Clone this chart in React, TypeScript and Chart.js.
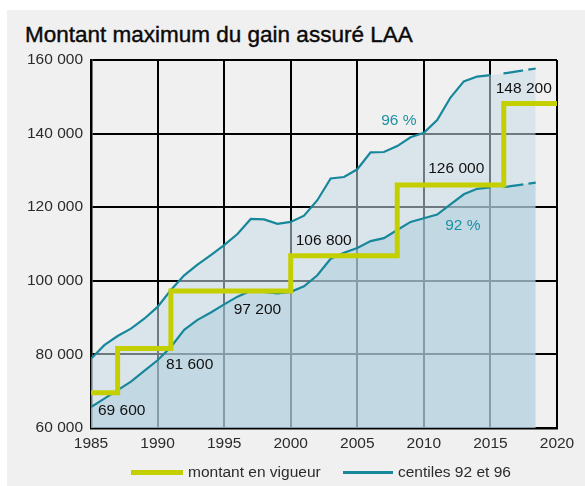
import React, { useEffect, useRef } from "react";
import { Chart, registerables } from "chart.js";

Chart.register(...registerables);

// ---- data ----
const years = [
  1985, 1986, 1987, 1988, 1989, 1990, 1991, 1992, 1993, 1994, 1995, 1996, 1997, 1998, 1999, 2000,
  2001, 2002, 2003, 2004, 2005, 2006, 2007, 2008, 2009, 2010, 2011, 2012, 2013, 2014, 2015,
];
const centile96 = [
  78800, 82500, 85000, 87000, 89700, 92900, 97500, 101500, 104400, 107000, 109700, 112700, 116800,
  116700, 115500, 116000, 117700, 121900, 127800, 128200, 130300, 134900, 135000, 136600, 139000,
  140200, 143700, 149800, 154200, 155500, 155900,
];
const centile92 = [
  65700, 68000, 70300, 72600, 75500, 78400, 82000, 86700, 89400, 91400, 93600, 95700, 97300, 97000,
  96600, 97000, 98500, 101500, 106000, 107600, 108900, 110800, 111600, 113800, 116000, 117000,
  118000, 120800, 123500, 125000, 125400,
];
const projYears = [2015, 2016.3, 2018.4];
const centile96Proj = [155900, 156500, 157700];
const centile92Proj = [125400, 125600, 126700];

const stepYears = [1985, 1987, 1991, 2000, 2008, 2016, 2020];
const stepValues = [69600, 81600, 97200, 106800, 126000, 148200, 148200];

const xTicks = { min: 1985, max: 2020, step: 5 };
const yTicks = { min: 60000, max: 160000, step: 20000 };

const titleText = "Montant maximum du gain assuré LAA";
const legendStep = "montant en vigueur";
const legendCentiles = "centiles 92 et 96";
const label96 = "96 %";
const label92 = "92 %";

// ---- styles ----
const TEAL = "#17879b";
const LIME = "#c4cf00";
const FONT = "'Liberation Sans', Arial, Helvetica, sans-serif";

const fmt = (v: number) => String(Math.round(v)).replace(/\B(?=(\d{3})+(?!\d))/g, " ");
const pts = (xs: number[], ys: number[]) => xs.map((x, i) => ({ x, y: ys[i] }));

// label placement for each step (pixel offsets, style only)
const stepLabelStyle = [
  { dx: 7, dy: 18, anchorEnd: false },
  { dx: -5, dy: 16, anchorEnd: true },
  { dx: -57, dy: 19, anchorEnd: true },
  { dx: 5, dy: -15, anchorEnd: false },
  { dx: 31, dy: -16, anchorEnd: false },
  { dx: -8, dy: -15, anchorEnd: false },
];

const labelsPlugin = {
  id: "valueLabels",
  afterDatasetsDraw(chart: any) {
    const { ctx, scales } = chart;
    const xs = scales.x;
    const ys = scales.y;
    ctx.save();
    ctx.font = `15.5px ${FONT}`;
    ctx.fillStyle = "#111";
    ctx.textAlign = "left";
    ctx.textBaseline = "middle";
    for (let i = 0; i < 6; i++) {
      const s = stepLabelStyle[i];
      const baseYear = s.anchorEnd ? stepYears[i + 1] : stepYears[i];
      const px = xs.getPixelForValue(baseYear) + s.dx;
      const py = ys.getPixelForValue(stepValues[i]) + s.dy;
      ctx.fillText(fmt(stepValues[i]), px, py);
    }
    ctx.fillStyle = "#1f8fa6";
    const x96 = xs.getPixelForValue(2006.8);
    const y96 = ys.getPixelForValue(centile96[years.indexOf(2007)]) - 31;
    ctx.fillText(label96, x96, y96);
    const x92 = xs.getPixelForValue(2011.6);
    const y92 = ys.getPixelForValue(centile92[years.indexOf(2012)]) + 21;
    ctx.fillText(label92, x92, y92);
    ctx.restore();
  },
};

export default function App() {
  const ref = useRef<HTMLCanvasElement>(null);

  useEffect(() => {
    if (!ref.current) return;
    const fillYears = years.concat(projYears.slice(1));
    const fill96 = centile96.concat(centile96Proj.slice(1));
    const fill92 = centile92.concat(centile92Proj.slice(1));
    const chart = new Chart(ref.current, {
      type: "line",
      data: {
        datasets: [
          {
            label: legendStep,
            data: pts(stepYears, stepValues),
            borderColor: LIME,
            borderWidth: 5,
            stepped: "before",
            pointRadius: 0,
            fill: false,
            borderJoinStyle: "miter",
            borderCapStyle: "butt",
          },
          {
            label: legendCentiles,
            data: pts(years, centile96),
            borderColor: TEAL,
            borderWidth: 2.2,
            pointRadius: 0,
            fill: false,
            tension: 0,
          },
          {
            label: "92",
            data: pts(years, centile92),
            borderColor: TEAL,
            borderWidth: 2.2,
            pointRadius: 0,
            fill: false,
            tension: 0,
          },
          {
            label: "96p",
            data: pts(projYears, centile96Proj),
            borderColor: TEAL,
            borderWidth: 2.2,
            borderDash: [20, 5, 20, 13],
            borderDashOffset: 45,
            pointRadius: 0,
            fill: false,
            tension: 0.3,
          },
          {
            label: "92p",
            data: pts(projYears, centile92Proj),
            borderColor: TEAL,
            borderWidth: 2.2,
            borderDash: [20, 5, 20, 13],
            borderDashOffset: 45,
            pointRadius: 0,
            fill: false,
            tension: 0.3,
          },
          {
            label: "fill92",
            data: pts(fillYears, fill92),
            borderWidth: 0,
            borderColor: "rgba(0,0,0,0)",
            backgroundColor: "rgba(165,200,214,0.45)",
            pointRadius: 0,
            fill: "start",
          },
          {
            label: "fill96",
            data: pts(fillYears, fill96),
            borderWidth: 0,
            borderColor: "rgba(0,0,0,0)",
            backgroundColor: "rgba(200,219,232,0.55)",
            pointRadius: 0,
            fill: "start",
          },
        ],
      },
      options: {
        responsive: false,
        animation: false,
        devicePixelRatio: 1,
        layout: { padding: { top: 60, right: 28, left: 0, bottom: 0 } },
        plugins: {
          legend: { display: false },
          tooltip: { enabled: false },
          title: { display: false },
        },
        scales: {
          x: {
            type: "linear",
            min: xTicks.min,
            max: xTicks.max,
            afterFit: (s: any) => {
              s.height = 58;
            },
            ticks: {
              stepSize: xTicks.step,
              padding: 6,
              color: "#2b2b2b",
              font: { family: FONT, size: 15.5 },
              callback: (v: any) => String(v),
              maxRotation: 0,
            },
            grid: { color: "#000", lineWidth: 2, drawTicks: false },
            border: { color: "#000", width: 2.5 },
          },
          y: {
            min: yTicks.min,
            max: yTicks.max,
            afterFit: (s: any) => {
              s.width = 91;
            },
            ticks: {
              stepSize: yTicks.step,
              padding: 8,
              color: "#2b2b2b",
              font: { family: FONT, size: 15.5 },
              callback: (v: any) => fmt(v),
            },
            grid: { color: "#000", lineWidth: 2, drawTicks: false },
            border: { color: "#000", width: 2.5 },
          },
        },
      },
      plugins: [labelsPlugin],
    } as any);
    return () => chart.destroy();
  }, []);

  return (
    <div style={{ position: "absolute", left: 0, top: 0, width: 585, height: 486, background: "#fff", overflow: "hidden" }}>
      <div style={{ position: "absolute", left: 7, top: 10, width: 578, height: 476, background: "#f0f0f0" }} />
      <div
        style={{
          position: "absolute",
          left: 25,
          top: 24,
          fontFamily: FONT,
          fontWeight: 400,
          fontSize: 22.5,
          lineHeight: "22px",
          color: "#0a0a0a",
          whiteSpace: "nowrap",
          WebkitTextStroke: "0.4px #0a0a0a",
        }}
      >
        {titleText}
      </div>
      <canvas ref={ref} width={585} height={486} style={{ position: "absolute", left: 0, top: 0, width: 585, height: 486 }} />
      <div style={{ position: "absolute", left: 131, top: 469.5, width: 52, height: 5, background: LIME }} />
      <div style={{ position: "absolute", left: 188, top: 463, fontFamily: FONT, fontSize: 15.5, lineHeight: "18px", color: "#2b2b2b", whiteSpace: "nowrap" }}>
        {legendStep}
      </div>
      <div style={{ position: "absolute", left: 343, top: 471, width: 50, height: 2.5, background: TEAL }} />
      <div style={{ position: "absolute", left: 398, top: 463, fontFamily: FONT, fontSize: 15.5, lineHeight: "18px", color: "#2b2b2b", whiteSpace: "nowrap" }}>
        {legendCentiles}
      </div>
    </div>
  );
}
